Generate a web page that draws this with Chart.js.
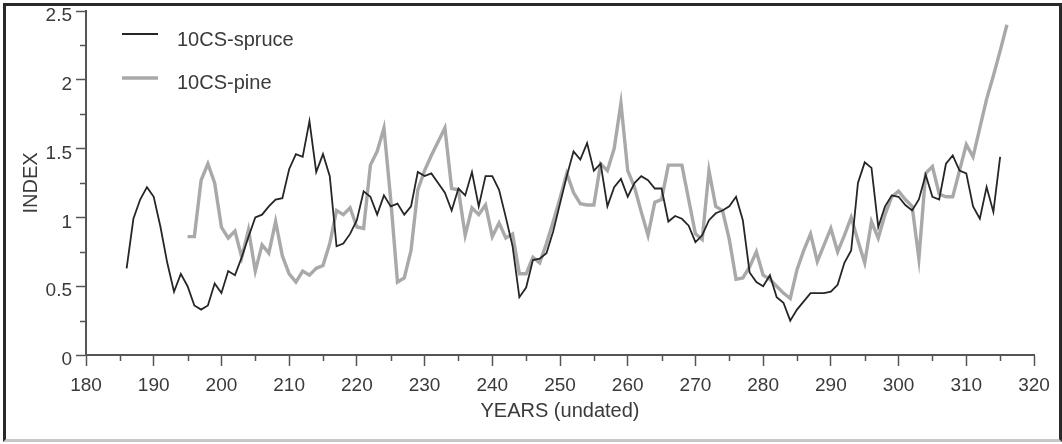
<!DOCTYPE html>
<html>
<head>
<meta charset="utf-8">
<script src="https://cdn.jsdelivr.net/npm/chart.js@4.4.1/dist/chart.umd.min.js"></script>
<style>
  html, body { margin: 0; padding: 0; background: #fff; }
  #wrap { position: relative; width: 1062px; height: 444px; }
  #frame { position: absolute; left: 3px; top: 3px; width: 1053px; height: 433px;
           border: 3px solid #2a2a2a; border-bottom-color: #c8c8c8; pointer-events: none; }
  canvas { position: absolute; left: 0; top: 0; }
</style>
</head>
<body>
<div id="wrap">
  <canvas id="c" width="1062" height="444"></canvas>
  <div id="frame"></div>
</div>
<script>
// ---- data ----
const seriesNames = ["10CS-spruce", "10CS-pine"];
const spruceStartYear = 186;
const spruceValues = [
  0.63, 0.99, 1.13, 1.22, 1.15, 0.93, 0.67, 0.46, 0.59, 0.50, // 186-195
  0.36, 0.33, 0.36, 0.52, 0.45, 0.61, 0.58, 0.71, 0.86, 1.00, // 196-205
  1.02, 1.08, 1.13, 1.14, 1.35, 1.46, 1.44, 1.70, 1.33, 1.46, // 206-215
  1.30, 0.79, 0.81, 0.88, 0.98, 1.19, 1.15, 1.02, 1.16, 1.08, // 216-225
  1.10, 1.02, 1.08, 1.33, 1.30, 1.32, 1.25, 1.18, 1.05, 1.21, // 226-235
  1.16, 1.33, 1.08, 1.30, 1.30, 1.20, 1.00, 0.79, 0.42, 0.49, // 236-245
  0.69, 0.70, 0.74, 0.90, 1.10, 1.30, 1.48, 1.42, 1.54, 1.34, // 246-255
  1.39, 1.08, 1.22, 1.28, 1.15, 1.25, 1.30, 1.27, 1.21, 1.21, // 256-265
  0.97, 1.01, 0.99, 0.94, 0.82, 0.87, 0.98, 1.03, 1.05, 1.08, // 266-275
  1.15, 0.98, 0.60, 0.53, 0.50, 0.58, 0.42, 0.38, 0.25, 0.33, // 276-285
  0.39, 0.45, 0.45, 0.45, 0.46, 0.51, 0.67, 0.76, 1.25, 1.40, // 286-295
  1.36, 0.93, 1.08, 1.16, 1.15, 1.09, 1.05, 1.13, 1.31, 1.15, // 296-305
  1.13, 1.39, 1.45, 1.34, 1.32, 1.08, 0.99, 1.22, 1.04, 1.44  // 306-315
];
const pineStartYear = 195;
const pineValues = [
  0.86, 0.86, 1.27, 1.39, 1.25, 0.93, 0.85, 0.90, 0.71, 0.91, // 195-204
  0.61, 0.80, 0.74, 0.97, 0.72, 0.59, 0.53, 0.61, 0.58, 0.63, // 205-214
  0.65, 0.81, 1.05, 1.02, 1.07, 0.93, 0.92, 1.38, 1.48, 1.65, // 215-224
  1.13, 0.53, 0.56, 0.76, 1.20, 1.34, 1.45, 1.55, 1.65, 1.21, // 225-234
  1.20, 0.87, 1.07, 1.02, 1.09, 0.86, 0.96, 0.85, 0.88, 0.59, // 235-244
  0.59, 0.71, 0.67, 0.81, 0.97, 1.14, 1.32, 1.18, 1.10, 1.09, // 245-254
  1.09, 1.39, 1.34, 1.50, 1.83, 1.34, 1.22, 1.04, 0.87, 1.11, // 255-264
  1.13, 1.38, 1.38, 1.38, 1.13, 0.88, 0.84, 1.34, 1.08, 1.05, // 265-274
  0.84, 0.55, 0.56, 0.64, 0.75, 0.58, 0.55, 0.50, 0.45, 0.41, // 275-284
  0.62, 0.76, 0.88, 0.68, 0.80, 0.92, 0.75, 0.87, 1.00, 0.83, // 285-294
  0.67, 0.97, 0.85, 1.02, 1.15, 1.19, 1.13, 1.08, 0.70, 1.32, // 295-304
  1.37, 1.17, 1.15, 1.15, 1.34, 1.53, 1.44, 1.65, 1.86, 2.03, // 305-314
  2.21, 2.40                                                  // 315-316
];
const xTickValues = [180, 190, 200, 210, 220, 230, 240, 250, 260, 270, 280, 290, 300, 310, 320];
const yTickValues = [0, 0.5, 1, 1.5, 2, 2.5];
const yTickLabels = ["0", "0.5", "1", "1.5", "2", "2.5"];
const xTitle = "YEARS (undated)";
const yTitle = "INDEX";

// ---- styles ----
const FONT = "'Liberation Sans', Arial, Helvetica, sans-serif";
const TEXT = "#3a3a3a";
const AXIS = "#555";
const spruceColor = "#262626";
const pineColor = "#a9a9a9";

const toPoints = (start, vals) => vals.map((v, i) => ({ x: start + i, y: v }));

const minorTicks = {
  id: 'minorTicks',
  afterDraw(chart) {
    const { ctx, chartArea, scales } = chart;
    ctx.save();
    ctx.strokeStyle = AXIS;
    ctx.lineWidth = 1.5;
    ctx.beginPath();
    for (let i = 0; i < xTickValues.length - 1; i++) {
      const v = (xTickValues[i] + xTickValues[i + 1]) / 2;
      const px = Math.round(scales.x.getPixelForValue(v)) + 0.5;
      ctx.moveTo(px, chartArea.bottom);
      ctx.lineTo(px, chartArea.bottom + 6);
    }
    for (let i = 0; i < yTickValues.length - 1; i++) {
      const v = (yTickValues[i] + yTickValues[i + 1]) / 2;
      const py = Math.round(scales.y.getPixelForValue(v)) + 0.5;
      ctx.moveTo(chartArea.left - 6, py);
      ctx.lineTo(chartArea.left, py);
    }
    ctx.stroke();
    ctx.restore();
  }
};

const innerLegend = {
  id: 'innerLegend',
  afterDraw(chart) {
    const { ctx, chartArea } = chart;
    const x0 = chartArea.left + 36, x1 = chartArea.left + 72, tx = chartArea.left + 91;
    const rows = [{ ly: chartArea.top + 23, ty: chartArea.top + 29 }, { ly: chartArea.top + 67, ty: chartArea.top + 72 }];
    ctx.save();
    chart.data.datasets.forEach((ds, i) => {
      ctx.strokeStyle = ds.borderColor;
      ctx.lineWidth = ds.borderWidth;
      ctx.beginPath();
      ctx.moveTo(x0, rows[i].ly);
      ctx.lineTo(x1, rows[i].ly);
      ctx.stroke();
      ctx.fillStyle = TEXT;
      ctx.font = "20px " + FONT;
      ctx.textBaseline = 'middle';
      ctx.textAlign = 'left';
      ctx.fillText(ds.label, tx, rows[i].ty);
    });
    ctx.restore();
  }
};

new Chart(document.getElementById('c'), {
  type: 'line',
  data: {
    datasets: [
      { label: seriesNames[0], data: toPoints(spruceStartYear, spruceValues),
        borderColor: spruceColor, borderWidth: 1.8, pointRadius: 0, tension: 0, fill: false },
      { label: seriesNames[1], data: toPoints(pineStartYear, pineValues),
        borderColor: pineColor, borderWidth: 3.4, pointRadius: 0, tension: 0, fill: false }
    ]
  },
  options: {
    responsive: false,
    animation: false,
    devicePixelRatio: 1,
    layout: { padding: { left: 0, right: 28, top: 11, bottom: 0 } },
    plugins: { legend: { display: false }, tooltip: { enabled: false } },
    scales: {
      x: {
        type: 'linear', min: 180, max: 320,
        afterBuildTicks: (s) => { s.ticks = xTickValues.map(v => ({ value: v })); },
        afterFit: (s) => { s.height = 89; s.paddingLeft = 0; s.paddingRight = 0; },
        ticks: { color: TEXT, font: { family: FONT, size: 19, lineHeight: 1 }, padding: 10, maxRotation: 0, autoSkip: false,
                 callback: (v) => String(v) },
        grid: { display: true, drawOnChartArea: false, drawTicks: true, tickLength: 11, tickColor: AXIS, tickWidth: 1.5 },
        border: { display: true, color: AXIS, width: 2 },
        title: { display: true, text: xTitle, color: TEXT, font: { family: FONT, size: 20 }, padding: { top: 0, bottom: 21 } }
      },
      y: {
        type: 'linear', min: 0, max: 2.5,
        afterBuildTicks: (s) => { s.ticks = yTickValues.map(v => ({ value: v })); },
        afterFit: (s) => { s.width = 86; s.paddingTop = 0; s.paddingBottom = 0; },
        ticks: { color: TEXT, font: { family: FONT, size: 19, lineHeight: 1 }, padding: 4, labelOffset: 5, autoSkip: false,
                 callback: (v) => yTickLabels[yTickValues.indexOf(v)] },
        grid: { display: true, drawOnChartArea: false, drawTicks: true, tickLength: 10, tickColor: AXIS, tickWidth: 1.5 },
        border: { display: true, color: AXIS, width: 2 },
        title: { display: true, text: yTitle, color: TEXT, font: { family: FONT, size: 20 }, padding: { top: 19, bottom: 0 } }
      }
    }
  },
  plugins: [minorTicks, innerLegend]
});
</script>
</body>
</html>
